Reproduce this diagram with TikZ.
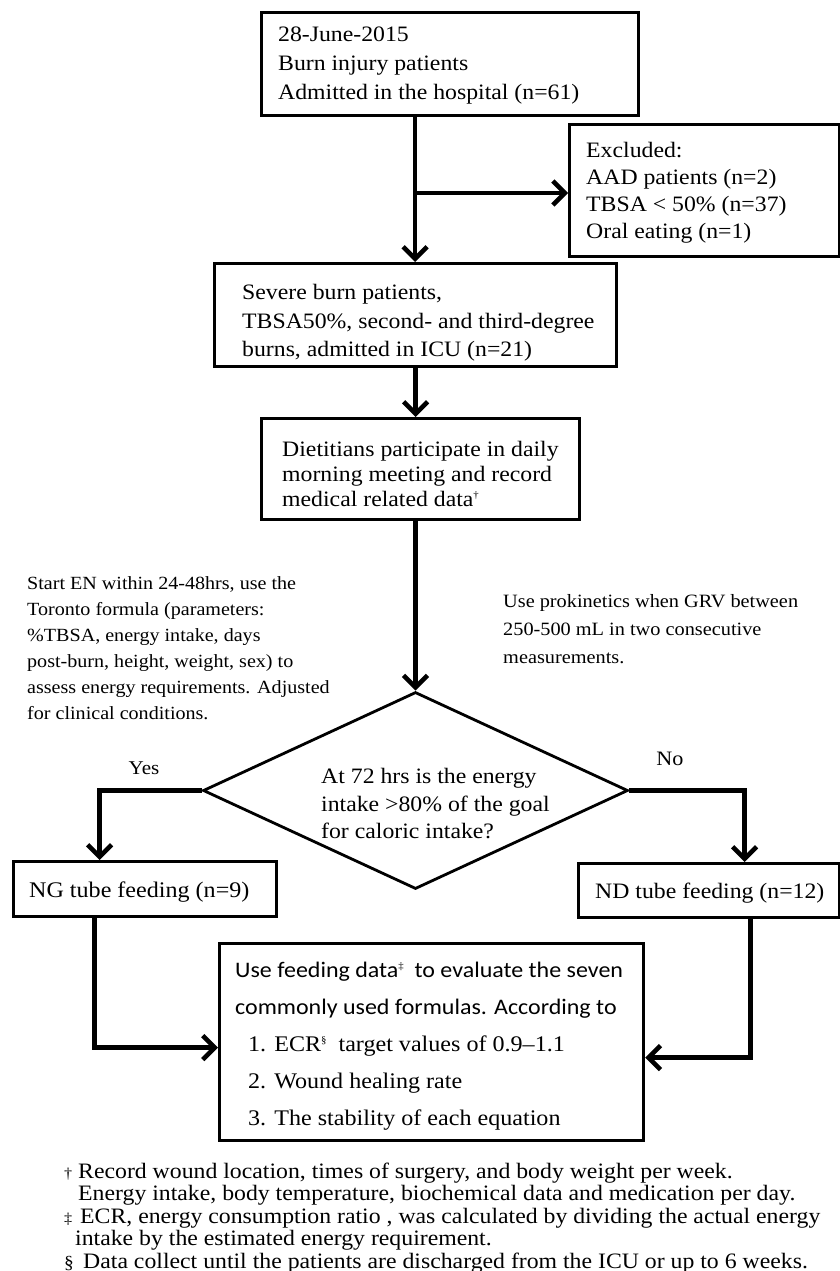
\documentclass[tikz,border=0pt]{standalone}
\usepackage{fontspec}
\setmainfont{Liberation Serif}[FakeStretch=1.08]
\newfontfamily\carlito{Carlito}[FakeStretch=1.08]
\usetikzlibrary{arrows.meta,shapes.geometric,calc}
\newcommand{\fs}[2]{\fontsize{#1}{#2}\selectfont}
\newcommand{\tsup}[1]{\raisebox{8pt}{\rmfamily\fontsize{10}{10}\selectfont #1}}
\begin{document}
\begin{tikzpicture}[x=1pt,y=-1pt,
  frame/.style={draw, line width=3.2pt, anchor=north west, inner sep=0pt},
  txt/.style={align=left, inner sep=0pt, anchor=west},
  conn/.style={line width=4.6pt},
  arr/.style={conn, -{Straight Barb[length=12pt,width=24pt]}}]
\useasboundingbox (0,0) rectangle (840,1271);
\fill[white] (0,0) rectangle (840,1271);

% frames
\node[frame, minimum width=377pt, minimum height=103pt] (b1) at (260,11) {};
\node[frame, minimum width=270pt, minimum height=132pt] (excl) at (568,123) {};
\node[frame, minimum width=402pt, minimum height=103pt] (b3) at (213,262) {};
\node[frame, minimum width=318pt, minimum height=101pt] (b4) at (260,417) {};
\node[draw, diamond, line width=2.8pt, minimum width=425pt, minimum height=197pt, inner sep=0pt] (dia) at (415.5,790.5) {};
\node[frame, minimum width=263pt, minimum height=55pt] (ng) at (12,860) {};
\node[frame, minimum width=261pt, minimum height=54pt] (nd) at (577,862) {};
\node[frame, minimum width=424pt, minimum height=197pt] (bot) at (218,942) {};

% texts
\node[txt, font=\fs{22}{29}] (t1) at (278,66)
  {28-June-2015\\Burn injury patients\\Admitted in the hospital (n=61)};
\node[txt, font=\fs{22}{27}] (texcl) at (586,193)
  {Excluded:\\AAD patients (n=2)\\TBSA < 50\% (n=37)\\Oral eating (n=1)};
\node[txt, font=\fs{22}{28.5}] (t3) at (242,323)
  {Severe burn patients,\\TBSA50\%, second- and third-degree\\burns, admitted in ICU (n=21)};
\node[txt, font=\fs{22}{25}] (t4) at (282,474)
  {Dietitians participate in daily\\morning meeting and record\\medical related data\tsup{†}};
\node[txt, font=\fs{22}{27.5}] (dtext) at (321,804)
  {At 72 hrs is the energy\\intake >80\% of the goal\\for caloric intake?};
\node[txt, font=\fs{18.6}{26}] (ltext) at (27,648)
  {Start EN within 24-48hrs, use the\\Toronto formula (parameters:\\\%TBSA, energy intake, days\\post-burn, height, weight, sex) to\\assess energy requirements. Adjusted\\for clinical conditions.};
\node[txt, font=\fs{18.8}{28}] (rtext) at (503,629)
  {Use prokinetics when GRV between\\250-500 mL in two consecutive\\measurements.};
\node[font=\fs{19.5}{19.5}, inner sep=0pt] (yes) at (144,768) {Yes};
\node[font=\fs{20.5}{20.5}, inner sep=0pt] (no) at (670,759) {No};
\node[txt, font=\fs{22.3}{22}] (ngt) at (29,892) {NG tube feeding (n=9)};
\node[txt, font=\fs{22}{22}] (ndt) at (595,893) {ND tube feeding (n=12)};
\node[txt, font=\fs{22.3}{37}] (bott) at (235,1046)
  {{\carlito\fontsize{22.2}{37}\selectfont Use feeding data\tsup{‡}\ \ to evaluate the seven}\\
   {\carlito\fontsize{22.2}{37}\selectfont commonly used formulas. According to}\\
   \hspace*{13pt}1. ECR\tsup{§}\ \ target values of 0.9–1.1\\
   \hspace*{13pt}2. Wound healing rate\\
   \hspace*{13pt}3. The stability of each equation};
\node[txt, font=\fs{22}{22.5}] (foot) at (64,1218)
  {\makebox[14pt][l]{\fs{15}{15}†}Record wound location, times of surgery, and body weight per week.\\
   \hspace*{14pt}Energy intake, body temperature, biochemical data and medication per day.\\
   \makebox[16pt][l]{\fs{15}{15}‡}ECR, energy consumption ratio , was calculated by dividing the actual energy\\
   \hspace*{11pt}intake by the estimated energy requirement.\\
   \makebox[19pt][l]{\fs{18}{18}§}Data collect until the patients are discharged from the ICU or up to 6 weeks.};

% connectors
\coordinate (j) at (415,193);
\draw[arr] (b1.south -| j) -- (b3.north -| j);
\draw[arr] (j) -- (j -| excl.west);
\draw[arr] (b3.south) -- (b3.south |- b4.north);
\draw[arr] (b4.south -| dia.north) -- (dia.north);
\draw[arr] (dia.west) -| ([xshift=-45.5pt]ng.north);
\draw[arr] (dia.east) -| ([xshift=35.5pt]nd.north);
\draw[arr] ([xshift=-50.5pt]ng.south) |- ([yshift=-5.5pt]bot.west);
\draw[arr] ([xshift=41.5pt]nd.south) |- ([yshift=-15.5pt]bot.east);
\end{tikzpicture}
\end{document}
